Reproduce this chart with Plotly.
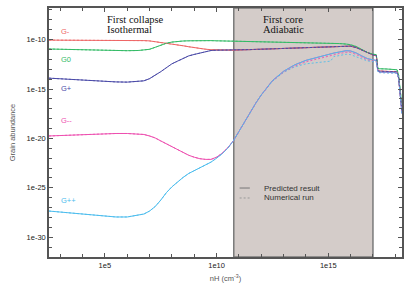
import plotly.graph_objects as go

# log10(nH) grid
LOG_NH = [2.5, 3.0, 3.5, 4.0, 4.5, 5.0, 5.5, 6.0, 6.5,
          6.75, 7.0, 7.25, 7.5, 7.75, 8.0, 8.25, 8.5, 8.75, 9.0,
          9.25, 9.5, 9.75, 10.0, 10.25, 10.5, 10.75, 11.0, 11.25, 11.5,
          11.75, 12.0, 12.5, 13.0, 13.5, 14.0, 14.5, 15.0, 15.1, 15.25, 15.5, 15.8,
          16.0, 16.25, 16.5, 16.75, 17.0, 17.15, 17.22, 17.3, 17.6, 18.0,
          18.08, 18.15, 18.22, 18.3]

# log10 abundances (predicted result)
G_MINUS = [-10.05, -10.05, -10.05, -10.05, -10.05, -10.05, -10.05, -10.05, -10.07,
           -10.1, -10.13, -10.2, -10.27, -10.35, -10.43, -10.52, -10.62, -10.72, -10.82,
           -10.9, -10.97, -11.02, -11.05, -11.07, -11.08, -11.07, -11.05, -11.03, -11.01,
           -10.99, -10.97, -10.93, -10.88, -10.83, -10.78, -10.73, -10.68, -10.67, -10.655, -10.63, -10.62,
           -10.66, -10.8, -11.05, -11.35, -11.55, -11.62, -13.1, -13.18, -13.2, -13.2,
           -13.25, -13.9, -15.4, -17.3]
G_ZERO = [-10.95, -10.98, -11.02, -11.05, -11.08, -11.1, -11.12, -11.12, -11.1,
          -11.05, -10.98, -10.78, -10.55, -10.37, -10.25, -10.18, -10.14, -10.12, -10.1,
          -10.1, -10.1, -10.1, -10.12, -10.13, -10.14, -10.15, -10.16, -10.17, -10.18,
          -10.19, -10.2, -10.22, -10.25, -10.28, -10.31, -10.34, -10.37, -10.375, -10.385, -10.4, -10.45,
          -10.52, -10.7, -11.0, -11.3, -11.48, -11.52, -12.9, -12.95, -12.97, -13.0,
          -13.05, -13.6, -15.0, -16.8]
G_PLUS = [-13.9, -13.97, -14.03, -14.1, -14.17, -14.23, -14.28, -14.3, -14.25,
          -14.17, -13.95, -13.63, -13.25, -12.85, -12.45, -12.18, -11.9, -11.65, -11.5,
          -11.35, -11.2, -11.1, -11.07, -11.07, -11.08, -11.07, -11.05, -11.03, -11.01,
          -10.99, -10.97, -10.93, -10.88, -10.83, -10.78, -10.73, -10.68, -10.67, -10.655, -10.63, -10.62,
          -10.66, -10.8, -11.05, -11.35, -11.55, -11.62, -13.15, -13.2, -13.22, -13.22,
          -13.27, -13.9, -15.4, -17.3]
G_MM = [-19.75, -19.7, -19.65, -19.6, -19.55, -19.52, -19.5, -19.5, -19.52,
        -19.6, -19.75, -19.95, -20.25, -20.55, -20.85, -21.15, -21.45, -21.7, -21.9,
        -22.05, -22.12, -22.12, -21.9, -21.5, -20.95, -20.25, -19.3, -18.3, -17.3,
        -16.45, -15.6, -14.15, -13.2, -12.55, -12.1, -11.78, -11.48, -11.43, -11.36, -11.25, -11.12,
        -11.15, -11.35, -11.65, -11.92, -12.05, -12.1, -13.2, -13.28, -13.3, -13.3,
        -13.35, -13.9, -15.5, -17.5]
G_PP = [-27.35, -27.45, -27.55, -27.7, -27.82, -27.9, -27.95, -27.95, -27.8,
        -27.65, -27.35, -26.9, -26.25, -25.5, -24.9, -24.4, -23.95, -23.55, -23.25,
        -22.95, -22.7, -22.4, -22.0, -21.55, -21.0, -20.25, -19.3, -18.3, -17.3,
        -16.45, -15.6, -14.15, -13.2, -12.55, -12.1, -11.78, -11.48, -11.43, -11.36, -11.25, -11.12,
        -11.15, -11.35, -11.65, -11.92, -12.05, -12.1, -13.2, -13.28, -13.3, -13.3,
        -13.35, -13.9, -15.5, -17.5]

# numerical run (dashed) for the doubly charged grains
NUM_G_MM = [-19.75, -19.7, -19.65, -19.6, -19.55, -19.52, -19.5, -19.5, -19.52,
            -19.6, -19.75, -19.95, -20.25, -20.55, -20.85, -21.15, -21.45, -21.7, -21.9,
            -22.05, -22.12, -22.12, -21.9, -21.5, -20.95, -20.25, -19.3, -18.3, -17.3,
            -16.45, -15.62, -14.2, -13.3, -12.68, -12.25, -11.95, -11.65, -11.6, -11.52, -11.4, -11.28,
            -11.3, -11.5, -11.8, -12.05, -12.18, -12.22, -13.25, -13.32, -13.34, -13.34,
            -13.38, -13.92, -15.5, -17.5]
NUM_G_PP = [-27.35, -27.45, -27.55, -27.7, -27.82, -27.9, -27.95, -27.95, -27.8,
            -27.65, -27.35, -26.9, -26.25, -25.5, -24.9, -24.4, -23.95, -23.55, -23.25,
            -22.95, -22.7, -22.4, -22.0, -21.55, -21.0, -20.25, -19.3, -18.3, -17.3,
            -16.45, -15.62, -14.22, -13.3, -12.75, -12.45, -12.3, -12.22, -12.18, -11.72, -11.58, -11.48,
            -11.52, -11.7, -11.95, -12.15, -12.25, -12.28, -13.3, -13.35, -13.38, -13.38,
            -13.4, -13.95, -15.6, -17.6]

SPECIES = ["G-", "G0", "G+", "G--", "G++"]
COLORS = {"G-": "#ee6666", "G0": "#33bb66", "G+": "#4a4aa8", "G--": "#ee4fb0", "G++": "#4cbdee"}
LABEL_POS = {"G-": -9.2, "G0": -12.03, "G+": -14.97, "G--": -18.2, "G++": -26.3}

SHADE_NH = [10 ** 10.77, 10 ** 17.0]
X_TICKS = [1e5, 1e10, 1e15]
X_TICKTEXT = ["1e5", "1e10", "1e15"]
Y_TICKS = [1e-30, 1e-25, 1e-20, 1e-15, 1e-10]
Y_TICKTEXT = ["1e-30", "1e-25", "1e-20", "1e-15", "1e-10"]
LEGEND_NAMES = ["Predicted result", "Numerical run"]

nh = [10 ** v for v in LOG_NH]
pred = {"G-": G_MINUS, "G0": G_ZERO, "G+": G_PLUS, "G--": G_MM, "G++": G_PP}
num = {"G-": G_MINUS, "G0": G_ZERO, "G+": G_PLUS, "G--": NUM_G_MM, "G++": NUM_G_PP}

fig = go.Figure()
for s in SPECIES:
    fig.add_trace(go.Scatter(x=nh, y=[10 ** v for v in pred[s]], mode="lines",
                             line=dict(color=COLORS[s], width=1), showlegend=False,
                             hoverinfo="skip"))
for s in SPECIES:
    fig.add_trace(go.Scatter(x=nh, y=[10 ** v for v in num[s]], mode="lines",
                             line=dict(color=COLORS[s], width=1, dash="2px,2px"),
                             opacity=0.85, showlegend=False, hoverinfo="skip"))

fig.add_shape(type="rect", xref="x", yref="paper", x0=SHADE_NH[0], x1=SHADE_NH[1],
              y0=0, y1=1, fillcolor="#d4ccc9", line=dict(color="#7a7a7a", width=1.5),
              layer="below")

# legend (drawn by hand to match the compact gnuplot key)
for i, (name, dash, col) in enumerate(zip(LEGEND_NAMES, ["solid", "2px,2px"], ["#777777", "#999999"])):
    yy = 0.277 - i * 0.040
    fig.add_shape(type="line", xref="paper", yref="paper", x0=0.540, x1=0.569, y0=yy, y1=yy,
                  line=dict(color=col, width=1, dash=dash))
    fig.add_annotation(x=0.6026, y=yy, xref="paper", yref="paper", text=name,
                       showarrow=False, xanchor="left", yanchor="middle",
                       font=dict(family="Liberation Sans", size=8, color="#333333"))

for s in SPECIES:
    fig.add_annotation(x=2.95, y=LABEL_POS[s], xref="x", yref="y", text=s,
                       showarrow=False, xanchor="left", yanchor="middle",
                       font=dict(family="Liberation Sans", size=7.5, color=COLORS[s]))

serif = dict(family="Liberation Serif", size=10.5, color="#111111")
for txt, xx, yy in [("First collapse", 5.0, 0.952), ("Isothermal", 5.0, 0.912),
                    ("First core", 12.0, 0.952), ("Adiabatic", 12.0, 0.912)]:
    fig.add_annotation(x=xx, y=yy, xref="x", yref="paper", text=txt, showarrow=False,
                       xanchor="left", yanchor="middle", font=serif)

axis_common = dict(type="log", showline=True, linecolor="#555555", linewidth=1.5,
                   mirror="ticks", ticks="inside", ticklen=4, tickcolor="#555555",
                   showgrid=False, zeroline=False, automargin=False,
                   tickfont=dict(family="Liberation Sans", size=7.5, color="#222222"))

fig.update_layout(
    width=415, height=291,
    margin=dict(l=49, r=13, t=8, b=34),
    paper_bgcolor="white", plot_bgcolor="white",
    showlegend=False,
    font=dict(family="Liberation Sans", size=8, color="#333333"),
    xaxis=dict(range=[2.5, 18.3], tickvals=X_TICKS, ticktext=X_TICKTEXT,
               minor=dict(tickvals=[10 ** k for k in range(3, 19)], ticklen=3,
                          ticks="inside", tickcolor="#555555"),
               title=dict(text="nH (cm<sup>-3</sup>)", standoff=7,
                          font=dict(family="Liberation Sans", size=7.5, color="#555555")),
               **axis_common),
    yaxis=dict(range=[-32, -6.8], tickvals=Y_TICKS, ticktext=Y_TICKTEXT,
               minor=dict(tickvals=[10 ** -k for k in range(7, 33)], ticklen=3,
                          ticks="inside", tickcolor="#555555"),
               title=dict(text="Grain abundance", standoff=10,
                          font=dict(family="Liberation Sans", size=7.5, color="#555555")),
               **axis_common),
)

fig.write_html("out.html", config={"displayModeBar": False},
               post_script="document.body.style.margin='0';")
